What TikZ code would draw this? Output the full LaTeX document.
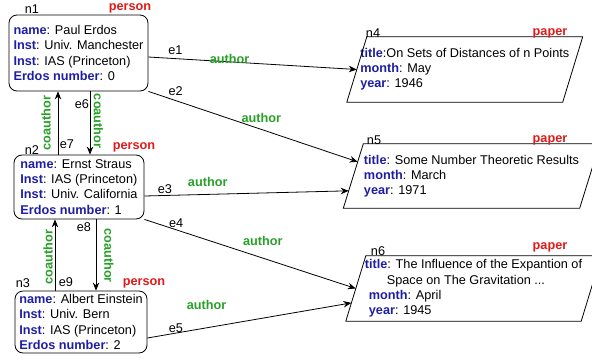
\documentclass[tikz,border=0pt]{standalone}
\usepackage{fontspec}
\setmainfont{Liberation Sans}
\usetikzlibrary{positioning,arrows.meta,calc}

\definecolor{keyblue}{RGB}{30,30,165}
\definecolor{tagred}{RGB}{225,25,25}
\definecolor{relgreen}{RGB}{40,160,40}

\newcommand{\key}[1]{\textcolor{keyblue}{\textbf{#1}}}
% slanted outline round a paper node
\newcommand{\paperoutline}[1]{%
  \draw[line width=0.8pt] ([xshift=10pt]#1.north west) -- ([xshift=10pt]#1.north east)
    -- ([xshift=-10pt]#1.south east) -- ([xshift=-10pt]#1.south west) -- cycle;}

\begin{document}
\begin{tikzpicture}[x=1pt,y=-1pt,>={Stealth[length=8pt,width=6.5pt]},
  every node/.style={font=\fontsize{12.7}{15.2}\selectfont},
  person/.style={draw, rounded corners=8pt, align=left, inner sep=0pt, line width=0.8pt},
  paper/.style={align=left, inner sep=0pt},
  idtag/.style={inner sep=0pt},
  kindtag/.style={inner sep=0pt, text=tagred, font=\fontsize{12.7}{15.2}\selectfont\bfseries},
  link/.style={->, line width=0.8pt},
  eid/.style={inner sep=0pt},
  rel/.style={inner sep=0pt, text=relgreen, font=\fontsize{12.7}{15.2}\selectfont\bfseries}]

  \useasboundingbox (0,0) rectangle (592,357);

  % persons
  \node[person, minimum width=139pt, minimum height=76pt] (n1) at (78.5,53)
    {\key{name}: Paul Erdos\\ \key{Inst}: Univ. Manchester\\
     \key{Inst}: IAS (Princeton)\\ \key{Erdos number}: 0};
  \node[person, minimum width=130pt, minimum height=64pt] (n2) at (79,187)
    {\key{name}: Ernst Straus\\ \key{Inst}: IAS (Princeton)\\
     \key{Inst}: Univ. California\\ \key{Erdos number}: 1};
  \node[person, minimum width=132pt, minimum height=62pt] (n3) at (81,322)
    {\key{name}: Albert Einstein\\ \key{Inst}: Univ. Bern\\
     \key{Inst}: IAS (Princeton)\\ \key{Erdos} \key{number}: 2};

  \node[idtag] (n1id) at (32,9) {n1};
  \node[kindtag] (n1kind) at (130,8) {person};
  \node[idtag] (n2id) at (32,150) {n2};
  \node[kindtag] (n2kind) at (134,147) {person};
  \node[idtag] (n3id) at (23,283) {n3};
  \node[kindtag] (n3kind) at (144,283) {person};

  % papers
  \node[paper, minimum width=215.5pt, minimum height=65pt] (n4) at (464.75,69.5)
    {\key{title}:On Sets of Distances of n Points\\ \key{month}: May\\ \key{year}: 1946};
  \node[paper, minimum width=236pt, minimum height=64pt] (n5) at (471.5,176)
    {\key{title}: Some Number Theoretic Results\\ \key{month}: March\\ \key{year}: 1971};
  \node[paper, minimum width=235pt, minimum height=65pt] (n6) at (473.5,288.5)
    {\key{title}: The Influence of the Expantion of\\
     \hspace*{22pt}Space on The Gravitation ...\\
     \hspace*{4pt}\key{month}: April\\ \hspace*{4pt}\key{year}: 1945};
  \paperoutline{n4}
  \paperoutline{n5}
  \paperoutline{n6}

  \node[idtag] (n4id) at (373,33) {n4};
  \node[kindtag] (n4kind) at (550,33) {paper};
  \node[idtag] (n5id) at (374,140) {n5};
  \node[kindtag] (n5kind) at (550,140) {paper};
  \node[idtag] (n6id) at (378,251) {n6};
  \node[kindtag] (n6kind) at (550,247) {paper};

  % author edges
  \draw[link] ([yshift=-4pt]n1.east) --
    node[eid, pos=0.13, yshift=8.6pt] {e1}
    node[rel, pos=0.39, yshift=2.9pt] {author} (n4.west);
  \draw[link] (n1.south east) --
    node[eid, pos=0.13, yshift=9pt] {e2}
    node[rel, pos=0.54, yshift=11pt] {author}
    ($([xshift=-10pt]n5.south west)!0.72!([xshift=10pt]n5.north west)$);
  \draw[link] ([yshift=-9pt]n2.east) --
    node[eid, pos=0.1, yshift=6.5pt] {e3}
    node[rel, pos=0.31, yshift=12.5pt] {author}
    ($([xshift=-10pt]n5.south west)!0.27!([xshift=10pt]n5.north west)$);
  \draw[link] (n2.south east) --
    node[eid, pos=0.15, yshift=6.5pt] {e4}
    node[rel, pos=0.56, yshift=16.7pt] {author} (n6.west);
  \draw[link] ([yshift=-16pt]n3.east) --
    node[eid, pos=0.14, yshift=5.3pt] {e5}
    node[rel, pos=0.29, yshift=23pt] {author}
    ($([xshift=-10pt]n6.south west)!0.28!([xshift=10pt]n6.north west)$);

  % coauthor edges
  \draw[link] ([xshift=11.5pt]n1.south) --
    node[eid, pos=0.2, xshift=-8pt] {e6}
    node[rel, pos=0.47, xshift=8.5pt, rotate=-90] {coauthor}
    ([xshift=11.5pt]n1.south |- n2.north);
  \draw[link] ([xshift=-20.5pt]n1.south |- n2.north) --
    node[eid, pos=0.16, xshift=9pt] {e7}
    node[rel, pos=0.5, xshift=-12pt, rotate=90] {coauthor}
    ([xshift=-20.5pt]n1.south);
  \draw[link] ([xshift=17pt]n2.south) --
    node[eid, pos=0.11, xshift=-12pt] {e8}
    node[rel, pos=0.51, xshift=13pt, rotate=-90] {coauthor}
    ([xshift=17pt]n2.south |- n3.north);
  \draw[link] ([xshift=-24pt]n2.south |- n3.north) --
    node[eid, pos=0.125, xshift=11pt] {e9}
    node[rel, pos=0.47, xshift=-7pt, rotate=90] {coauthor}
    ([xshift=-24pt]n2.south);
\end{tikzpicture}
\end{document}
